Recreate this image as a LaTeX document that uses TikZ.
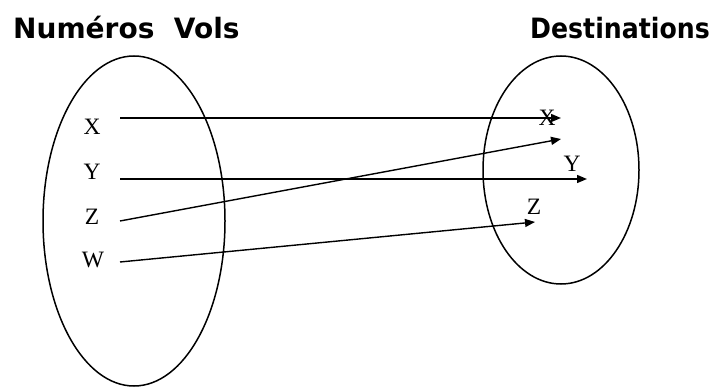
\documentclass[tikz,border=0pt]{standalone}
\usepackage{fontspec}
\setmainfont{Liberation Serif}
\newfontfamily\titlefont{DejaVu Sans}
\usetikzlibrary{arrows.meta}
\tikzset{
  mapto/.style={-{Triangle[length=10pt,width=8pt]}, line width=1.4pt},
  setline/.style={line width=1.5pt},
  elt/.style={font=\fontsize{23.5}{23.5}\selectfont, inner sep=0pt},
  ttl/.style={font=\titlefont\bfseries\fontsize{28}{28}\selectfont, inner sep=0pt},
}

\begin{document}
\begin{tikzpicture}[x=1pt,y=-1pt]
\useasboundingbox (0,0) rectangle (714,387);
% titles
\node[ttl, anchor=west] (tvols) at (13,28) {Numéros\ \ Vols};
\node[ttl, anchor=east] (tdest) at (710,28) {\scalebox{0.9}[1]{Destinations}};
% the two sets
\draw[setline] (134,221) ellipse [x radius=91, y radius=165];
\draw[setline] (561,170) ellipse [x radius=78, y radius=114];
% flight numbers
\node[elt] (vx) at (92,127) {X};
\node[elt] (vy) at (92,172) {Y};
\node[elt] (vz) at (92,217) {Z};
\node[elt] (vw) at (93,260) {W};
% destinations
\node[elt] (dx) at (547,118) {X};
\node[elt] (dy) at (572,164) {Y};
\node[elt] (dz) at (534,207) {Z};
% arrow ends
\coordinate (vxs) at (120,118);
\coordinate (vys) at (120,179);
\coordinate (vzs) at (120,221);
\coordinate (vws) at (120,262);
\coordinate (dxe) at (561,118);
\coordinate (dye) at (587,179);
\coordinate (dze) at (561,139);
\coordinate (dwe) at (535,222);
\draw[mapto] (vxs) -- (dxe);
\draw[mapto] (vys) -- (dye);
\draw[mapto] (vzs) -- (dze);
\draw[mapto] (vws) -- (dwe);
\end{tikzpicture}
\end{document}
